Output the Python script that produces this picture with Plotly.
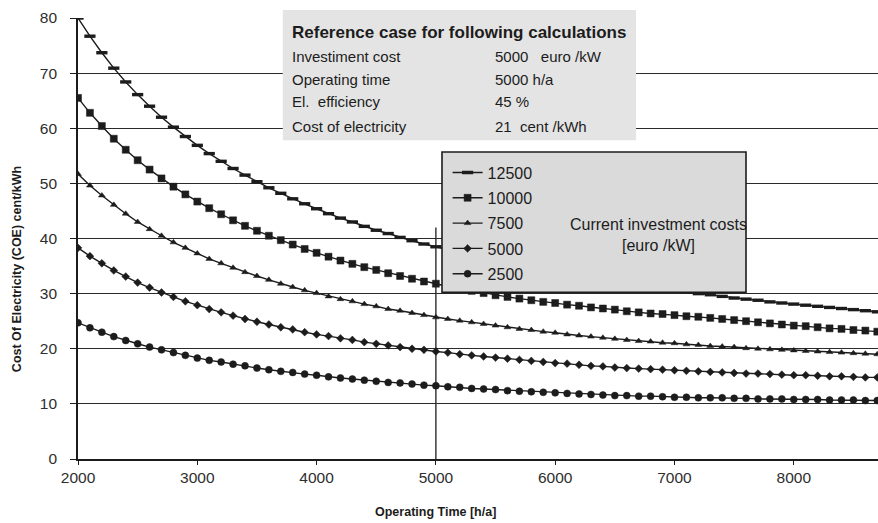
import plotly.graph_objects as go

# Operating hours per year (h/a), one sample every 100 h
HOURS = list(range(2000, 8701, 100))

# Cost of electricity (cent/kWh) for each current investment cost (euro/kW)
COE_12500 = [80.0, 76.7, 73.7, 70.9, 68.4, 66.1, 64.0, 62.0, 60.2, 58.5,
             56.9, 55.4, 54.0, 52.7, 51.5, 50.3, 49.2, 48.2, 47.2, 46.3,
             45.4, 44.5, 43.7, 43.0, 42.2, 41.5, 40.9, 40.2, 39.6, 39.0,
             38.5, 37.9, 37.4, 36.9, 36.4, 36.0, 35.5, 35.1, 34.7, 34.3,
             33.9, 33.5, 33.1, 32.8, 32.4, 32.1, 31.8, 31.5, 31.1, 30.9,
             30.6, 30.3, 30.0, 29.8, 29.5, 29.2, 29.0, 28.8, 28.5, 28.3,
             28.1, 27.9, 27.7, 27.5, 27.3, 27.1, 26.9, 26.7]
COE_10000 = [65.5, 62.8, 60.4, 58.1, 56.1, 54.2, 52.5, 50.9, 49.4, 48.0,
             46.7, 45.5, 44.4, 43.3, 42.3, 41.4, 40.5, 39.7, 38.9, 38.1,
             37.4, 36.7, 36.0, 35.4, 34.8, 34.3, 33.7, 33.2, 32.7, 32.2,
             31.8, 31.3, 30.9, 30.5, 30.1, 29.7, 29.4, 29.1, 28.8, 28.5,
             28.3, 28.0, 27.8, 27.5, 27.3, 27.1, 26.8, 26.6, 26.4, 26.3,
             26.1, 25.9, 25.8, 25.6, 25.4, 25.2, 25.0, 24.8, 24.6, 24.4,
             24.2, 24.1, 23.9, 23.7, 23.6, 23.4, 23.3, 23.1]
COE_7500 = [51.7, 49.6, 47.8, 46.1, 44.5, 43.0, 41.7, 40.5, 39.3, 38.3,
            37.3, 36.3, 35.5, 34.7, 33.9, 33.2, 32.5, 31.8, 31.2, 30.6,
            30.1, 29.5, 29.0, 28.6, 28.1, 27.7, 27.2, 26.9, 26.5, 26.1,
            25.7, 25.4, 25.1, 24.8, 24.5, 24.2, 23.9, 23.6, 23.4, 23.1,
            22.9, 22.6, 22.4, 22.2, 22.0, 21.8, 21.6, 21.4, 21.3, 21.1,
            21.0, 20.8, 20.7, 20.5, 20.4, 20.3, 20.1, 20.0, 19.9, 19.8,
            19.7, 19.6, 19.5, 19.4, 19.3, 19.2, 19.1, 19.0]
COE_5000 = [38.3, 36.8, 35.5, 34.2, 33.1, 32.0, 31.1, 30.2, 29.4, 28.6,
            27.9, 27.2, 26.6, 26.0, 25.4, 24.9, 24.4, 23.9, 23.5, 23.0,
            22.6, 22.3, 21.9, 21.6, 21.2, 20.9, 20.6, 20.3, 20.0, 19.8,
            19.5, 19.3, 19.0, 18.8, 18.6, 18.4, 18.2, 18.0, 17.8, 17.6,
            17.4, 17.3, 17.1, 16.9, 16.8, 16.6, 16.5, 16.4, 16.3, 16.2,
            16.1, 16.0, 15.9, 15.8, 15.7, 15.6, 15.5, 15.5, 15.4, 15.3,
            15.2, 15.2, 15.1, 15.0, 15.0, 14.9, 14.8, 14.8]
COE_2500 = [24.7, 23.8, 23.0, 22.2, 21.5, 20.9, 20.3, 19.8, 19.3, 18.8,
            18.3, 17.9, 17.6, 17.2, 16.9, 16.5, 16.2, 15.9, 15.7, 15.4,
            15.2, 14.9, 14.7, 14.5, 14.3, 14.1, 13.9, 13.8, 13.6, 13.4,
            13.3, 13.1, 13.0, 12.8, 12.7, 12.6, 12.4, 12.3, 12.2, 12.1,
            12.0, 11.9, 11.8, 11.7, 11.6, 11.5, 11.5, 11.4, 11.4, 11.3,
            11.2, 11.2, 11.1, 11.1, 11.1, 11.0, 11.0, 10.9, 10.9, 10.9,
            10.8, 10.8, 10.8, 10.7, 10.7, 10.7, 10.6, 10.6]

SERIES_NAMES = ["12500", "10000", "7500", "5000", "2500"]
SERIES_VALUES = [COE_12500, COE_10000, COE_7500, COE_5000, COE_2500]

X_TICKS = [2000, 3000, 4000, 5000, 6000, 7000, 8000]
Y_TICKS = [0, 10, 20, 30, 40, 50, 60, 70, 80]
REF_HOURS = 5000

# Reference-case table
REF_TITLE = "Reference case for following calculations"
REF_LABELS = ["Investiment cost", "Operating time", "El.  efficiency", "Cost of electricity"]
REF_VALUES = ["5000\u00a0\u00a0\u00a0euro /kW", "5000 h/a", "45 %", "21\u00a0\u00a0cent /kWh"]

INK = "#1c1c1c"
TICK_INK = "#2e2e2e"
FONT = "Liberation Sans, Arial, sans-serif"

# marker style per series: (symbol, size, outline width)
STYLES = [
    ("line-ew", 8, 3.4),
    ("square", 7, 0.5),
    ("triangle-up", 6, 0.5),
    ("diamond", 6, 0.5),
    ("circle", 7, 0.5),
]

fig = go.Figure()

for name, vals, (sym, size, lw) in zip(SERIES_NAMES, SERIES_VALUES, STYLES):
    fig.add_trace(go.Scatter(
        x=HOURS, y=vals, name=name, mode="lines+markers",
        legendgroup=name,
        line=dict(color=INK, width=1.4),
        marker=dict(symbol=sym, size=size, color=INK,
                    line=dict(color=INK, width=lw)),
        hoverinfo="x+y+name",
    ))

shapes = [
    # reference operating time
    dict(type="line", xref="x", yref="y", x0=REF_HOURS, x1=REF_HOURS,
         y0=0, y1=42, line=dict(color=INK, width=1.3), layer="below"),
    # reference-case table background
    dict(type="rect", xref="paper", yref="paper", x0=0.256, x1=0.6975,
         y0=0.723, y1=1.018, fillcolor="#e4e4e4", line=dict(width=0),
         layer="above"),
    # legend panel
    dict(type="rect", xref="paper", yref="paper", x0=0.455, x1=0.835,
         y0=0.378, y1=0.696, fillcolor="#dadada",
         line=dict(color=INK, width=1.6), layer="above"),
]

annotations = [
    dict(text=REF_TITLE, xref="paper", yref="paper", x=0.265, y=0.966,
         xanchor="left", yanchor="middle", showarrow=False,
         font=dict(family=FONT, size=17, color=INK, weight="bold")),
]
ROW_Y = [0.912, 0.86, 0.81, 0.754]
for lbl, val, yy in zip(REF_LABELS, REF_VALUES, ROW_Y):
    annotations.append(dict(text=lbl, xref="paper", yref="paper", x=0.265, y=yy,
                            xanchor="left", yanchor="middle", showarrow=False,
                            font=dict(family=FONT, size=15, color=INK)))
    annotations.append(dict(text=val, xref="paper", yref="paper", x=0.519, y=yy,
                            xanchor="left", yanchor="middle", showarrow=False,
                            font=dict(family=FONT, size=15, color=INK)))

annotations += [
    dict(text="Current investment costs<br>[euro /kW]", xref="paper", yref="paper",
         x=0.725, y=0.508, xanchor="center", yanchor="middle", showarrow=False,
         align="center", font=dict(family=FONT, size=16, color=INK)),
    dict(text="Cost Of Electricity (COE) cent/kWh", xref="paper", yref="paper",
         x=-0.076, y=0.431, textangle=-90, xanchor="center", yanchor="middle",
         showarrow=False, font=dict(family=FONT, size=12.5, color=INK, weight="bold")),
    dict(text="Operating Time [h/a]", xref="x", yref="paper",
         x=REF_HOURS, y=-0.12, xanchor="center", yanchor="middle",
         showarrow=False, font=dict(family=FONT, size=12.5, color=INK, weight="bold")),
]

fig.update_layout(
    width=878, height=523,
    margin=dict(l=78, r=0, t=18, b=64),
    paper_bgcolor="white", plot_bgcolor="white",
    font=dict(family=FONT, color=INK),
    showlegend=True,
    legend=dict(x=0.462, y=0.688, xanchor="left", yanchor="top",
                bgcolor="rgba(0,0,0,0)", borderwidth=0,
                font=dict(family=FONT, size=16, color=INK),
                tracegroupgap=1.5, itemwidth=30, traceorder="grouped"),
    shapes=shapes,
    annotations=annotations,
    xaxis=dict(range=[2000, 8706], tickvals=X_TICKS, showgrid=False,
               zeroline=False, showline=True, linecolor=INK, linewidth=1.6,
               ticks="outside", ticklen=4, tickcolor=INK,
               tickfont=dict(family=FONT, size=15.5, color=TICK_INK)),
    yaxis=dict(range=[0, 80], tickvals=Y_TICKS, showgrid=True,
               gridcolor="#2a2a2a", gridwidth=1.2, zeroline=False,
               showline=True, linecolor=INK, linewidth=1.6,
               ticks="outside", ticklen=6, tickcolor=INK,
               ticklabelstandoff=10,
               tickfont=dict(family=FONT, size=15.5, color=TICK_INK)),
)

fig.write_html("out.html")
